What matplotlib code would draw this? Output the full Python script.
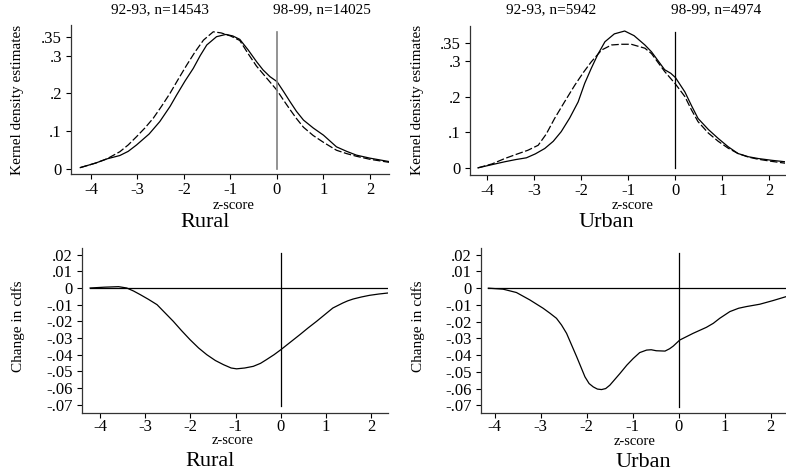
import numpy as np
import matplotlib
matplotlib.use("Agg")
import matplotlib.pyplot as plt

plt.rcParams['font.family'] = ['Liberation Serif', 'DejaVu Serif']
plt.rcParams['axes.unicode_minus'] = False

W, H = 786, 473

# ---- kernel densities, rural ----
rural_z_solid = [-4.23, -3.9, -3.66, -3.38, -3.2, -3.02, -2.75, -2.52, -2.3, -2.16, -1.98, -1.8, -1.65,
                 -1.51, -1.3, -1.1, -0.95, -0.8, -0.62, -0.44, -0.3, -0.15, 0.0, 0.14, 0.28, 0.42, 0.57,
                 0.78, 1.0, 1.28, 1.5, 1.71, 2.0, 2.41]
rural_solid = [0.003, 0.015, 0.026, 0.035, 0.046, 0.063, 0.092, 0.125, 0.165, 0.195, 0.232, 0.266, 0.300,
               0.328, 0.350, 0.356, 0.352, 0.343, 0.315, 0.284, 0.262, 0.244, 0.231, 0.205, 0.178, 0.152,
               0.129, 0.108, 0.089, 0.058, 0.046, 0.036, 0.028, 0.019]
rural_z_dash = [-4.23, -3.9, -3.66, -3.38, -3.2, -3.02, -2.84, -2.66, -2.48, -2.3, -2.12, -1.94, -1.76,
                -1.58, -1.37, -1.2, -1.0, -0.8, -0.62, -0.44, -0.22, 0.0, 0.14, 0.28, 0.42, 0.57, 0.78,
                1.0, 1.28, 1.5, 1.71, 2.0, 2.41]
rural_dash = [0.003, 0.015, 0.026, 0.045, 0.063, 0.085, 0.108, 0.134, 0.166, 0.200, 0.238, 0.275, 0.310,
              0.341, 0.363, 0.360, 0.352, 0.340, 0.305, 0.272, 0.240, 0.208, 0.182, 0.157, 0.133, 0.110,
              0.088, 0.070, 0.049, 0.040, 0.033, 0.025, 0.017]

# ---- kernel densities, urban ----
urban_z_solid = [-4.2, -3.9, -3.63, -3.4, -3.17, -2.98, -2.78, -2.6, -2.43, -2.25, -2.07, -1.93, -1.79,
                 -1.65, -1.5, -1.3, -1.08, -0.88, -0.65, -0.51, -0.37, -0.23, -0.1, 0.0, 0.2, 0.34, 0.48,
                 0.7, 0.91, 1.12, 1.33, 1.55, 1.76, 2.05, 2.33]
urban_solid = [0.001, 0.010, 0.018, 0.024, 0.029, 0.040, 0.055, 0.075, 0.102, 0.140, 0.185, 0.237, 0.279,
               0.318, 0.353, 0.375, 0.383, 0.370, 0.344, 0.325, 0.300, 0.275, 0.265, 0.253, 0.213, 0.175,
               0.139, 0.108, 0.083, 0.060, 0.041, 0.032, 0.027, 0.022, 0.018]
urban_z_dash = [-4.2, -3.9, -3.63, -3.4, -3.14, -2.92, -2.75, -2.57, -2.36, -2.14, -1.96, -1.79, -1.57,
                -1.36, -1.15, -0.94, -0.65, -0.51, -0.23, 0.0, 0.2, 0.34, 0.48, 0.7, 0.91, 1.12, 1.33,
                1.55, 1.76, 2.05, 2.33]
urban_dash = [0.001, 0.012, 0.027, 0.038, 0.050, 0.064, 0.095, 0.139, 0.185, 0.232, 0.267, 0.297, 0.330,
              0.344, 0.346, 0.346, 0.335, 0.320, 0.270, 0.235, 0.200, 0.163, 0.130, 0.098, 0.075, 0.056,
              0.041, 0.031, 0.025, 0.019, 0.014]

# ---- change in cdfs ----
rural_z_cdf = [-4.22, -3.9, -3.59, -3.41, -3.26, -3.11, -2.93, -2.74, -2.65, -2.56, -2.38, -2.2, -2.01,
               -1.82, -1.64, -1.45, -1.27, -1.1, -0.98, -0.8, -0.61, -0.45, -0.32, -0.15, 0.0, 0.21, 0.42,
               0.6, 0.79, 0.97, 1.15, 1.26, 1.37, 1.48, 1.6, 1.78, 1.96, 2.17, 2.37]
rural_cdf = [0.0, 0.0005, 0.0008, 0.0, -0.0018, -0.004, -0.0068, -0.010, -0.0125, -0.015, -0.020, -0.0255,
             -0.031, -0.036, -0.040, -0.0435, -0.046, -0.048, -0.0485, -0.048, -0.047, -0.0452, -0.043,
             -0.040, -0.037, -0.0325, -0.028, -0.024, -0.020, -0.016, -0.012, -0.0105, -0.009, -0.0077,
             -0.0066, -0.0054, -0.0044, -0.0036, -0.003]
urban_z_cdf = [-4.14, -3.82, -3.53, -3.24, -2.95, -2.8, -2.66, -2.55, -2.44, -2.33, -2.22, -2.13, -2.04,
               -1.95, -1.86, -1.77, -1.68, -1.59, -1.5, -1.39, -1.28, -1.13, -0.99, -0.85, -0.7, -0.6,
               -0.49, -0.3, -0.2, -0.12, 0.02, 0.31, 0.6, 0.75, 0.89, 1.0, 1.11, 1.3, 1.47, 1.76, 2.05, 2.34]
urban_cdf = [0.0, -0.0006, -0.0026, -0.007, -0.012, -0.015, -0.018, -0.022, -0.027, -0.034, -0.041,
             -0.047, -0.053, -0.057, -0.059, -0.0603, -0.0606, -0.060, -0.058, -0.0545, -0.051, -0.046,
             -0.042, -0.0385, -0.037, -0.0368, -0.0374, -0.0376, -0.0362, -0.0346, -0.031, -0.027,
             -0.0234, -0.021, -0.018, -0.016, -0.014, -0.012, -0.011, -0.0096, -0.0074, -0.005]

x_ticks = [-4, -3, -2, -1, 0, 1, 2]
x_labels = ['-4', '-3', '-2', '-1', '0', '1', '2']
dens_ticks = [0, 0.1, 0.2, 0.3, 0.35]
dens_labels = ['0', '.1', '.2', '.3', '.35']
cdf_ticks = [0.02, 0.01, 0, -0.01, -0.02, -0.03, -0.04, -0.05, -0.06, -0.07]
cdf_labels = ['.02', '.01', '0', '-.01', '-.02', '-.03', '-.04', '-.05', '-.06', '-.07']

fig = plt.figure(figsize=(W / 100, H / 100), dpi=100)


def px_axes(l, t, r, b, xpad=2):
    ax = fig.add_axes([l / W, 1 - b / H, (r - l) / W, (b - t) / H])
    for s in ['top', 'right']:
        ax.spines[s].set_visible(False)
    for s in ['left', 'bottom']:
        ax.spines[s].set_linewidth(0.9)
        ax.spines[s].set_color('#333333')
    ax.tick_params(direction='out', length=3.5, width=0.8, labelsize=12, pad=3)
    ax.tick_params(axis='x', pad=xpad)
    ax.set_xticks(x_ticks)
    ax.set_xticklabels(x_labels)
    return ax


def ftext(x, y, s, size, **kw):
    fig.text(x / W, 1 - y / H, s, fontsize=size, ha='center', va='center', **kw)


# top left
ax = px_axes(71, 25, 389, 174)
ax.plot(rural_z_solid, rural_solid, color='black', lw=0.9)
ax.plot(rural_z_dash, rural_dash, color='black', lw=0.9, ls=(0, (6, 2)))
ax.plot([0, 0], [0, 0.363], color='#808080', lw=1.2)
ax.set_xlim(-4.43, 2.41)
ax.set_ylim(-0.014, 0.381)
ax.set_yticks(dens_ticks)
ax.set_yticklabels(dens_labels)

# top right
ax = px_axes(470, 26, 785, 175)
ax.plot(urban_z_solid, urban_solid, color='black', lw=0.9)
ax.plot(urban_z_dash, urban_dash, color='black', lw=0.9, ls=(0, (6, 2)))
ax.plot([0, 0], [0, 0.38], color='black', lw=0.9)
ax.set_xlim(-4.37, 2.33)
ax.set_ylim(-0.019, 0.397)
ax.set_yticks(dens_ticks)
ax.set_yticklabels(dens_labels)

# bottom left
ax = px_axes(82, 248, 388, 413, xpad=0.5)
ax.plot(rural_z_cdf, rural_cdf, color='black', lw=0.9)
ax.plot([rural_z_cdf[0], rural_z_cdf[-1]], [0, 0], color='black', lw=0.9)
ax.plot([0, 0], [-0.071, 0.021], color='black', lw=0.9)
ax.set_xlim(-4.40, 2.37)
ax.set_ylim(-0.075, 0.024)
ax.set_yticks(cdf_ticks)
ax.set_yticklabels(cdf_labels)

# bottom right
ax = px_axes(481, 248, 786, 413, xpad=0.5)
ax.plot(urban_z_cdf, urban_cdf, color='black', lw=0.9)
ax.plot([urban_z_cdf[0], urban_z_cdf[-1]], [0, 0], color='black', lw=0.9)
ax.plot([0, 0], [-0.071, 0.021], color='black', lw=0.9)
ax.set_xlim(-4.30, 2.33)
ax.set_ylim(-0.0746, 0.024)
ax.set_yticks(cdf_ticks)
ax.set_yticklabels(cdf_labels)

# labels
ftext(160, 10, '92-93, n=14543', 11)
ftext(322, 10, '98-99, n=14025', 11)
ftext(551, 10, '92-93, n=5942', 11)
ftext(716, 10, '98-99, n=4974', 11)

ftext(18, 100, 'Kernel density estimates', 11, rotation=90)
ftext(418, 100, 'Kernel density estimates', 11, rotation=90)
ftext(18, 326, 'Change in cdfs', 11, rotation=90)
ftext(418, 326, 'Change in cdfs', 11, rotation=90)

ftext(234, 205, 'z-score', 10.5)
ftext(633, 205, 'z-score', 10.5)
ftext(233, 440, 'z-score', 10.5)
ftext(635, 441, 'z-score', 10.5)

ftext(205, 222, 'Rural', 16)
ftext(606, 222, 'Urban', 16)
ftext(210, 461, 'Rural', 16)
ftext(643, 462, 'Urban', 16)

fig.savefig('out.png', dpi=100)
